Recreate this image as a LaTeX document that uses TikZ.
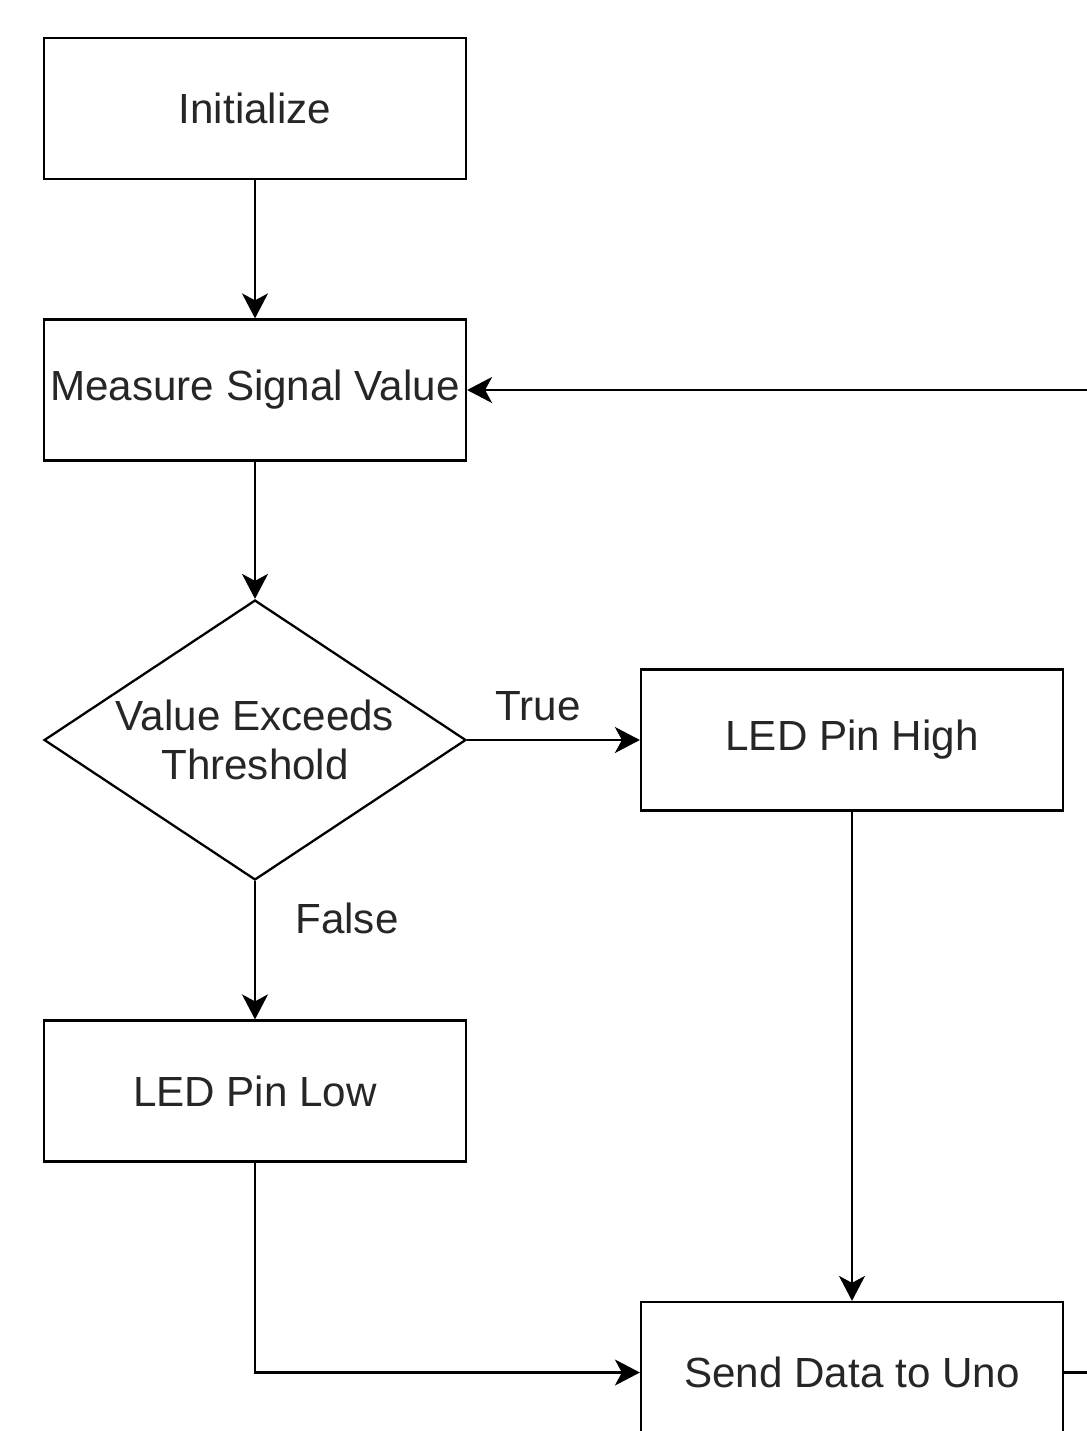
\documentclass[tikz,border=0pt]{standalone}
\usepackage{fontspec}
\setmainfont{Liberation Sans}
\usetikzlibrary{arrows.meta,shapes.geometric}

\begin{document}
\begin{tikzpicture}[x=0.02cm,y=0.02cm,
    box/.style={draw,line width=1.3pt,minimum width=8.44cm,minimum height=2.82cm,inner sep=0pt,text=textcolor,font=\fontsize{24}{28}\selectfont},
    decision/.style={draw,diamond,line width=1.3pt,minimum width=8.44cm,minimum height=5.6cm,inner sep=0pt,aspect=1.5,text=textcolor,align=center,font=\fontsize{24}{28}\selectfont},
    flow/.style={line width=1.3pt,-{Stealth[length=0.5cm,width=0.52cm,inset=0.14cm]}},
    lbl/.style={text=textcolor,font=\fontsize{24}{28}\selectfont}]
    % Colores
    \colorlet{textcolor}{black!85}

    % Marco
    \fill[white] (0,0) rectangle (1087,-1431);
    \clip (0,0) rectangle (1087,-1431);

    % Bloques
    \node[box] (init) at (255,-108.5) {Initialize};
    \node[box] (measure) at (255,-390) {Measure Signal Value};
    \node[decision] (check) at (255,-740) {Value Exceeds\\Threshold};
    \node[box] (high) at (852,-740) {LED Pin High};
    \node[box] (low) at (255,-1091) {LED Pin Low};
    \node[box] (send) at (852,-1372.5) {Send Data to Uno};

    % Retorno (sale del recorte)
    \coordinate (back) at (1130,-1372.5);

    % Conexiones
    \draw[flow] (init) -- (measure);
    \draw[flow] (measure) -- (check);
    \draw[flow] (check) -- node[lbl,above,pos=0.41,yshift=7pt] {True} (high);
    \draw[flow] (check) -- node[lbl,right,pos=0.27,xshift=19pt] {False} (low);
    \draw[flow] (high) -- (send);
    \draw[flow] (low) |- (send);
    \draw[flow] (send) -- (back) |- (measure);
\end{tikzpicture}
\end{document}
